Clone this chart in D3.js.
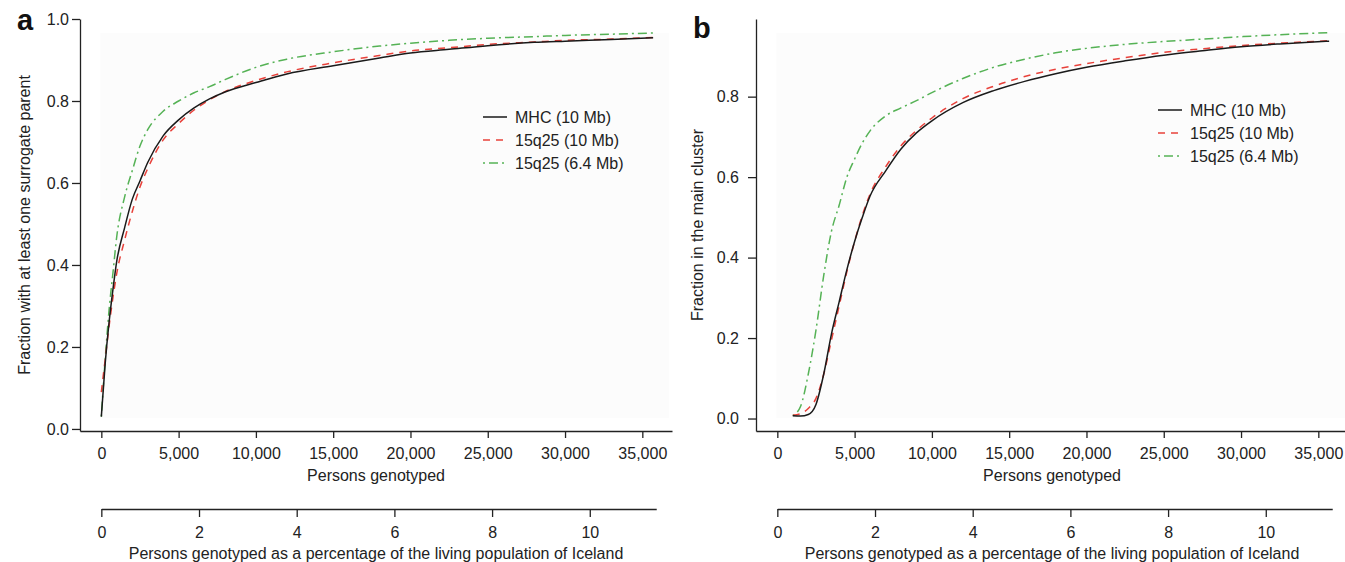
<!DOCTYPE html>
<html>
  <head>
    <meta charset="utf-8">
    <script src="https://d3js.org/d3.v7.min.js"></script>
    <style>
      body { margin: 0; background: #fff; }
      svg text { font-family: "Liberation Sans", Arial, sans-serif; fill: #222; }
      .axis path, .axis line { stroke: #222; stroke-width: 1.3; }
      .axis text { font-size: 16px; }
    </style>
  </head>
  <body>
    <div id="chart"></div>

    <script>

        // panel a: persons genotyped vs fraction with at least one surrogate parent
        const personsA = [0, 250, 500, 750, 1000, 1500, 2000, 2500, 3000, 4000, 5000, 6000, 7000, 8000,
                          10000, 12000, 15000, 18000, 20000, 22500, 25000, 28000, 30000, 33000, 35700]
        const mhcA     = [0.03, 0.16, 0.26, 0.34, 0.41, 0.49, 0.56, 0.605, 0.65, 0.715, 0.754, 0.783, 0.805, 0.822,
                          0.845, 0.866, 0.886, 0.905, 0.917, 0.926, 0.935, 0.943, 0.946, 0.950, 0.954]
        const q25_10A  = [0.09, 0.17, 0.25, 0.32, 0.38, 0.46, 0.53, 0.59, 0.635, 0.705, 0.745, 0.778, 0.803, 0.823,
                          0.850, 0.871, 0.893, 0.911, 0.922, 0.930, 0.938, 0.944, 0.948, 0.951, 0.955]
        const q25_64A  = [0.03, 0.17, 0.29, 0.38, 0.47, 0.565, 0.63, 0.69, 0.73, 0.775, 0.80, 0.82, 0.835, 0.852,
                          0.882, 0.902, 0.920, 0.934, 0.941, 0.948, 0.953, 0.957, 0.960, 0.963, 0.966]

        // panel b: persons genotyped vs fraction in the main cluster
        const personsB = [1000, 1500, 2000, 2500, 3000, 3500, 4000, 4500, 5000, 5500, 6000, 7000, 8000, 9000,
                          10000, 12000, 14000, 16000, 18000, 20000, 22500, 25000, 27500, 30000, 32500, 35700]
        const mhcB     = [0.007, 0.006, 0.010, 0.035, 0.11, 0.21, 0.29, 0.37, 0.44, 0.50, 0.553, 0.615, 0.670, 0.710,
                          0.740, 0.785, 0.815, 0.838, 0.857, 0.873, 0.889, 0.903, 0.914, 0.924, 0.931, 0.938]
        const q25_10B  = [0.008, 0.012, 0.025, 0.05, 0.11, 0.195, 0.28, 0.365, 0.44, 0.505, 0.558, 0.625, 0.678, 0.716,
                          0.747, 0.795, 0.826, 0.850, 0.868, 0.882, 0.897, 0.910, 0.919, 0.927, 0.933, 0.939]
        const q25_64B  = [0.007, 0.03, 0.11, 0.22, 0.355, 0.465, 0.53, 0.60, 0.645, 0.685, 0.715, 0.752, 0.772, 0.79,
                          0.81, 0.845, 0.873, 0.893, 0.909, 0.920, 0.930, 0.937, 0.943, 0.949, 0.954, 0.959]

        const seriesNames = ["MHC (10 Mb)", "15q25 (10 Mb)", "15q25 (6.4 Mb)"]
        const xTicks      = [0, 5000, 10000, 15000, 20000, 25000, 30000, 35000]
        const pctTicks    = [0, 2, 4, 6, 8, 10]
        const yTicksA     = [0, 0.2, 0.4, 0.6, 0.8, 1.0]
        const yTicksB     = [0, 0.2, 0.4, 0.6, 0.8]
        const icelandPopulation = 316000
        const maxPersons  = 35900

        const styles = [
            { color: "#1a1a1a", dash: null },
            { color: "#e8413a", dash: "7,6" },
            { color: "#55b255", dash: "2,4,9,4" }
        ]

        let svg = d3.select("#chart").append("svg")
            .attr("width", 1345)
            .attr("height", 562)

        drawPanel({
            label: "a", labelX: 17, labelY: 30,
            left: 80, yDomain: [-0.005, 1.0], yTicks: yTicksA, yPad: 3, yTitleX: 30,
            yTitle: "Fraction with at least one surrogate parent",
            persons: personsA, series: [mhcA, q25_10A, q25_64A],
            legendX: 483, legendY: 117
        })

        drawPanel({
            label: "b", labelX: 693, labelY: 38,
            left: 756, yDomain: [-0.031, 0.993], yTicks: yTicksB, yPad: 9, yTitleX: 703,
            yTitle: "Fraction in the main cluster",
            persons: personsB, series: [mhcB, q25_10B, q25_64B],
            legendX: 1158, legendY: 110
        })

        function drawPanel(p) {
            let top = 19, bottom = 431, width = 592,
                g = svg.append("g"),

                x = d3.scaleLinear().domain([-1380, 36920]).range([p.left, p.left + width]),
                y = d3.scaleLinear().domain(p.yDomain).range([bottom, top]),
                pct = d3.scaleLinear()
                    .domain([0, maxPersons / icelandPopulation * 100])
                    .range([x(0), x(maxPersons)])

            // faint plotting area
            g.append("rect")
                .attr("x", x(0) - 1)
                .attr("y", 33)
                .attr("width", x(36800) - x(0))
                .attr("height", 385)
                .attr("fill", "#fcfcfc")

            g.append("g")
                .attr("class", "axis")
                .attr("transform", `translate(0,${bottom})`)
                .call(d3.axisBottom(x).tickValues(xTicks).tickSize(7).tickSizeOuter(0).tickPadding(10)
                    .tickFormat(d3.format(",")))

            g.append("g")
                .attr("class", "axis")
                .attr("transform", `translate(${p.left},0)`)
                .call(d3.axisLeft(y).tickValues(p.yTicks).tickSize(8).tickSizeOuter(0).tickPadding(p.yPad)
                    .tickFormat(d3.format(".1f")))

            g.append("g")
                .attr("class", "axis")
                .attr("transform", "translate(0,509)")
                .call(d3.axisBottom(pct).tickValues(pctTicks).tickSize(8).tickSizeOuter(0).tickPadding(10))

            g.append("text")
                .attr("x", p.left + width / 2)
                .attr("y", 481)
                .attr("text-anchor", "middle")
                .style("font-size", "16px")
                .text("Persons genotyped")

            g.append("text")
                .attr("x", p.left + width / 2)
                .attr("y", 559)
                .attr("text-anchor", "middle")
                .style("font-size", "16px")
                .text("Persons genotyped as a percentage of the living population of Iceland")

            g.append("text")
                .attr("transform", `translate(${p.yTitleX},${(top + bottom) / 2}) rotate(-90)`)
                .attr("text-anchor", "middle")
                .style("font-size", "16px")
                .text(p.yTitle)

            g.append("text")
                .attr("x", p.labelX)
                .attr("y", p.labelY)
                .style("font-size", "29px")
                .style("font-weight", "bold")
                .style("fill", "#111")
                .text(p.label)

            let line = d3.line()
                .x(d => x(d[0]))
                .y(d => y(d[1]))
                .curve(d3.curveMonotoneX)

            // draw back to front so the black line stays on top
            p.series.map((s, i) => i).reverse().forEach(i => {
                g.append("path")
                    .datum(p.persons.map((v, j) => [v, p.series[i][j]]))
                    .attr("d", line)
                    .attr("fill", "none")
                    .attr("stroke", styles[i].color)
                    .attr("stroke-width", 1.5)
                    .attr("stroke-dasharray", styles[i].dash)
            })

            let legend = g.selectAll(".legend")
                .data(seriesNames)
                .enter().append("g")
                .attr("class", "legend")
                .attr("transform", (d, i) => `translate(${p.legendX},${p.legendY + i * 23})`)

            legend.append("line")
                .attr("x1", 0).attr("x2", 24)
                .attr("stroke", (d, i) => styles[i].color)
                .attr("stroke-width", 1.5)
                .attr("stroke-dasharray", (d, i) => styles[i].dash)

            legend.append("text")
                .attr("x", 32)
                .attr("dy", "0.36em")
                .style("font-size", "16px")
                .text(d => d)
        }

    </script>
  </body>
</html>
